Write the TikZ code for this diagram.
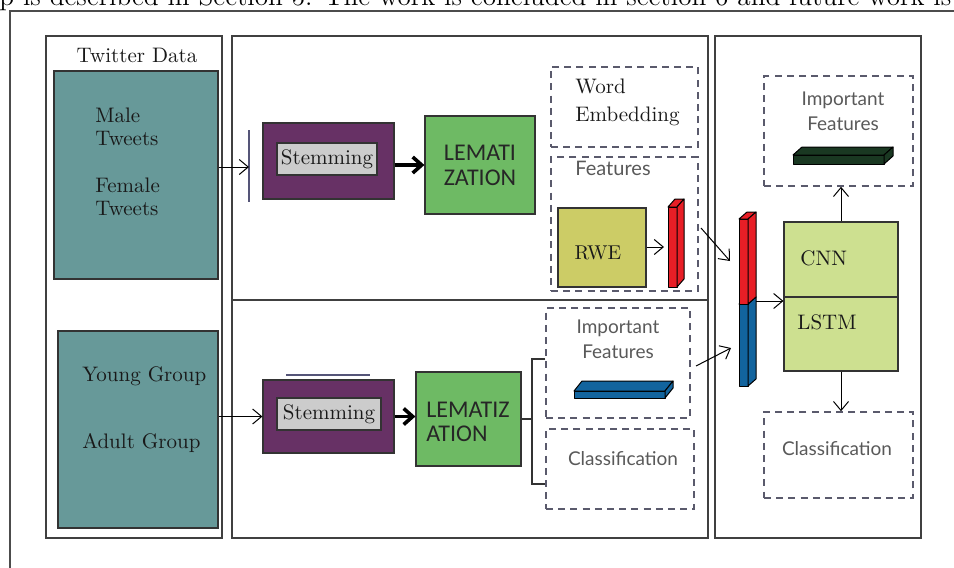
\documentclass[tikz,border=0pt]{standalone}
\usepackage{fontspec}
\newfontfamily\lemfont{Carlito}
\newfontfamily\grayfont{Lato}
\usetikzlibrary{arrows.meta}
\definecolor{tealc}{RGB}{103,153,153}
\definecolor{purplec}{RGB}{103,49,101}
\definecolor{grayc}{RGB}{204,204,204}
\definecolor{lemc}{RGB}{110,186,100}
\definecolor{rwec}{RGB}{204,204,102}
\definecolor{cnnc}{RGB}{205,224,144}
\definecolor{barred}{RGB}{232,30,38}
\definecolor{barblue}{RGB}{18,100,158}
\definecolor{slabgreen}{RGB}{26,56,34}
\definecolor{dashc}{RGB}{90,90,108}
\definecolor{slatec}{RGB}{85,85,120}
\newcommand\mycuboid[7]{%
  \filldraw[fill=#7, draw=black, line width=0.5pt, line join=round] (#1,#2) rectangle (#3,#4);
  \filldraw[fill=#7, draw=black, line width=0.5pt, line join=round] (#1,#2) -- ++(#5,#6) -- ++({#3-(#1)},0) -- (#3,#2) -- cycle;
  \filldraw[fill=#7, draw=black, line width=0.5pt, line join=round] (#3,#2) -- ++(#5,#6) -- ++(0,{#4-(#2)}) -- (#3,#4) -- cycle;
}
\tikzset{
  panel/.style={draw=black!75, line width=0.7pt, rectangle, inner sep=0},
  solidbox/.style={draw=black!80, line width=0.6pt, rectangle, inner sep=0},
  dashbox/.style={draw=dashc, line width=0.75pt, dash pattern=on 3.5pt off 2.6pt, rectangle, inner sep=0},
  serif/.style={font=\fontsize{10.5}{11.5}\selectfont, inner sep=0, text=black!90},
  graytxt/.style={font=\grayfont\fontsize{9.5}{12.5}\selectfont, text=black!65, inner sep=0},
  lemtxt/.style={font=\lemfont\fontsize{12}{12.5}\selectfont, inner sep=0, text=black!85},
  thinarrow/.style={-{Straight Barb[length=4.5pt,width=7.5pt]}, line width=0.5pt},
  thickarrow/.style={-{Straight Barb[length=4.5pt,width=8pt]}, line width=1.8pt},
}
\begin{document}
\begin{tikzpicture}[x=0.5pt,y=-0.5pt]
\useasboundingbox (0,0) rectangle (954,568);
% clipped line of page text and outer frame
\node[anchor=base west, font=\fontsize{13.6}{15}\selectfont, inner sep=0] (toptext) at (-1,5) {p is described in Section 5. The work is concluded in section 6 and future work is};
\coordinate (frbl) at (10,568);
\coordinate (frtl) at (10,11);
\coordinate (frtr) at (954,11);
\draw[line width=0.6pt, black!70] (frbl) -- (frtl) -- (frtr);

% panels
\node[panel, minimum width=88pt, minimum height=251pt] (lp) at (134,287) {};
\node[panel, minimum width=238pt, minimum height=132pt] (mpt) at (470,168) {};
\node[panel, minimum width=238pt, minimum height=119pt] (mpb) at (470,419) {};
\node[panel, minimum width=103pt, minimum height=251pt] (rp) at (818,287) {};

% left panel
\node[serif] (twt) at (137,55) {Twitter Data};
\node[solidbox, fill=tealc, minimum width=82pt, minimum height=104pt] (tw1) at (136,175) {};
\node[serif, anchor=west, align=left] (male) at (95,126.5) {Male\\Tweets};
\node[serif, anchor=west, align=left] (female) at (95,196.5) {Female\\Tweets};
\node[solidbox, fill=tealc, minimum width=80pt, minimum height=98.5pt] (tw2) at (138,429.5) {};
\node[serif, anchor=west] (young) at (82,376) {Young Group};
\node[serif, anchor=west] (adult) at (82,443) {Adult Group};

% middle top
\node[solidbox, fill=purplec, minimum width=65.5pt, minimum height=38pt] (st1) at (328.5,161) {};
\node[solidbox, fill=grayc, minimum width=50pt, minimum height=16pt, serif] (sg1) at (327,159) {Stemming};
\node[solidbox, fill=lemc, minimum width=55pt, minimum height=49pt, lemtxt, align=center] (lem1) at (480,165) {LEMATI\\ZATION};
\node[dashbox, minimum width=73.5pt, minimum height=40pt] (we) at (624.5,107) {};
\node[serif, anchor=west, align=left, font=\fontsize{10.5}{14}\selectfont] (wet) at (575,102) {Word\\Embedding};
\node[dashbox, minimum width=73.5pt, minimum height=67pt] (feat) at (624.5,224) {};
\node[graytxt, anchor=west, font=\grayfont\fontsize{10}{12}\selectfont] (featt) at (575,168) {Features};
\node[solidbox, fill=rwec, minimum width=44pt, minimum height=39.5pt] (rwe) at (602,247.5) {};
\node[serif, font=\fontsize{10}{12}\selectfont] (rwet) at (598,253) {RWE};
\mycuboid{668}{207}{677}{287}{7}{-8}{barred}
\coordinate (vl1t) at (249,130);
\coordinate (vl1b) at (249,202);
\coordinate (vl1m) at (249,167);
\draw[slatec, line width=0.6pt] (vl1t) -- (vl1b);
\draw[thinarrow] (tw1.east |- vl1m) -- (vl1m);
\draw[thickarrow] (lem1.west -| st1.east) -- (lem1.west);
\coordinate (rbl) at (664,247);
\draw[thinarrow] (rwe.east |- rbl) -- (rbl);

% middle bottom
\coordinate (sl2a) at (286,375);
\coordinate (sl2b) at (370,375);
\draw[slatec, line width=0.6pt] (sl2a) -- (sl2b);
\node[solidbox, fill=purplec, minimum width=65.5pt, minimum height=36.5pt] (st2) at (328.5,416.5) {};
\node[solidbox, fill=grayc, minimum width=52pt, minimum height=16pt, serif] (sg2) at (329,414) {Stemming};
\node[solidbox, fill=lemc, minimum width=52.5pt, minimum height=47pt] (lem2) at (468.5,419) {};
\node[lemtxt, anchor=west, align=left, font=\lemfont\fontsize{12}{12}\selectfont] (lem2t) at (426,422) {LEMATIZ\\ATION};
\draw[thinarrow] (st2.west -| tw2.east) -- (st2.west);
\draw[thickarrow] (st2.east) -- (st2.east -| lem2.west);
\node[dashbox, minimum width=72pt, minimum height=55pt] (impB) at (618,363) {};
\node[graytxt, align=center] (impBt) at (618,339.5) {Important\\Features};
\mycuboid{574}{391}{665}{398}{8}{-10}{barblue}
\node[dashbox, minimum width=74pt, minimum height=40pt] (clsB) at (620,469) {};
\node[graytxt] (clsBt) at (623,459) {Classification};
\coordinate (brt) at (532,359);
\coordinate (brb) at (532,484);
\draw[line width=0.6pt, black!80] (impB.west |- brt) -- (brt) -- (brb) -- (clsB.west |- brb);
\draw[line width=0.6pt, black!80] (lem2.east) -- (lem2.east -| brt);

% right panel
\mycuboid{739}{304}{748}{386}{8}{-7}{barblue}
\mycuboid{739}{219}{748}{304}{8}{-7}{barred}
\coordinate (f1s) at (701,228);
\coordinate (f1e) at (730,261);
\draw[thinarrow] (f1s) -- (f1e);
\coordinate (f2s) at (696,366);
\coordinate (f2e) at (731,348);
\draw[thinarrow] (f2s) -- (f2e);
\node[solidbox, fill=cnnc, minimum width=57pt, minimum height=37.5pt] (cnn) at (841,259.5) {};
\node[solidbox, fill=cnnc, minimum width=57pt, minimum height=37pt] (lstm) at (841,334) {};
\node[serif, anchor=west] (cnnt) at (800,258) {CNN};
\node[serif, anchor=west] (lstmt) at (797,322) {LSTM};
\coordinate (cbr) at (756,301);
\draw[thinarrow] (cbr) -- (cbr -| lstm.west);
\node[dashbox, minimum width=74.5pt, minimum height=55pt] (impR) at (838.5,131) {};
\node[graytxt, align=center] (impRt) at (843,111.5) {Important\\Features};
\mycuboid{793}{155}{884}{164}{9}{-8}{slabgreen}
\node[dashbox, minimum width=74.5pt, minimum height=43pt] (clsR) at (838.5,455) {};
\node[graytxt] (clsRt) at (837,449) {Classification};
\draw[thinarrow] (cnn.north) -- (cnn.north |- impR.south);
\draw[thinarrow] (lstm.south) -- (lstm.south |- clsR.north);
\end{tikzpicture}
\end{document}
